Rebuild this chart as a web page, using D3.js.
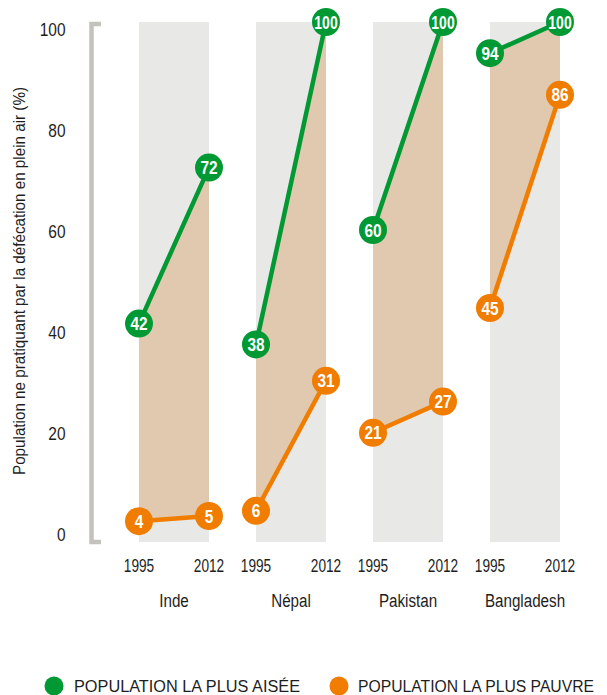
<!DOCTYPE html>
<html><head><meta charset="utf-8">
<script src="https://cdn.jsdelivr.net/npm/d3@7"></script>
<style>
body{margin:0;background:#fff;}
text{font-family:"Liberation Sans",Arial,sans-serif;}
</style></head>
<body><svg id="c" width="607" height="695"></svg>
<script>
const countries = ["Inde","Népal","Pakistan","Bangladesh"];
const years = ["1995","2012"];
const richest = [[42,72],[38,100],[60,100],[94,100]];
const poorest = [[4,5],[6,31],[21,27],[45,86]];
const yTicks = [0,20,40,60,80,100];
const yTitle = "Population ne pratiquant par la défécation en plein air (%)";
const legendLabels = ["POPULATION LA PLUS AISÉE","POPULATION LA PLUS PAUVRE"];

const green = "#009933", orange = "#f07d00", tan = "#e0c9af", colBg = "#e8e8e6", axisCol = "#c3c2bc", ink = "#1e1e1e";
const svg = d3.select("#c");

// condensed text helper: horizontal squeeze
function ctext(parent, x, y, s, str, size, anchor, extra) {
  const t = parent.append("text")
    .attr("transform", `translate(${x},${y}) scale(${s},1)`)
    .attr("dy","0.35em").attr("text-anchor",anchor).attr("font-size",size).attr("fill",ink).text(str);
  if (extra) extra(t);
  return t;
}

const x = d3.scaleBand().domain(countries).range([139,560]).paddingInner(47/117).paddingOuter(0);
const xy = d3.scalePoint().domain(years).range([0, x.bandwidth()]);
const y = d3.scaleLinear().domain([0,100]).range([542,22]);
const yLab = d3.scaleLinear().domain([0,100]).range([535,30]);

// axis bracket
svg.append("path").attr("d", `M101,${y(100)+2}H91.5V${y(0)}H101`)
  .attr("fill","none").attr("stroke",axisCol).attr("stroke-width",4.5);
// tick labels
const tg = svg.append("g");
yTicks.forEach(d => ctext(tg, 65.5, yLab(d), 0.86, d, 18, "end"));
svg.append("text").attr("transform",`translate(24.5,281) rotate(-90)`)
  .attr("text-anchor","middle").attr("font-size",16.5).attr("fill",ink)
  .attr("textLength",388).attr("lengthAdjust","spacingAndGlyphs").text(yTitle);

countries.forEach((c,i)=>{
  const g = svg.append("g").attr("transform",`translate(${x(c)},0)`);
  g.append("rect").attr("x",0).attr("y",y(100)).attr("width",x.bandwidth()).attr("height",y(0)-y(100)).attr("fill",colBg);
  const top = years.map((yr,j)=>[xy(yr), y(richest[i][j])]);
  const bot = years.map((yr,j)=>[xy(yr), y(poorest[i][j])]);
  g.append("path").attr("d", d3.line()(top.concat(bot.slice().reverse())) + "Z").attr("fill",tan);
  const series = [[top,green,richest[i]],[bot,orange,poorest[i]]];
  series.forEach(([pts,col])=>{
    g.append("path").attr("d", d3.line()(pts)).attr("stroke",col).attr("stroke-width",4.5).attr("fill","none");
  });
  series.forEach(([pts,col,vals])=>{
    pts.forEach((p,j)=>{
      g.append("circle").attr("cx",p[0]).attr("cy",p[1]).attr("r",14).attr("fill",col);
      ctext(g, p[0], p[1]+0.5, vals[j]>=100?0.8:0.88, vals[j], 17.5, "middle", t=>t.attr("font-weight","bold").attr("fill","#fff"));
    });
  });
  years.forEach(yr=> ctext(g, xy(yr), 566, 0.74, yr, 18.5, "middle"));
  ctext(g, x.bandwidth()/2, 600, 0.8, c, 19, "middle");
});

// legend
const lg = svg.append("g");
[[54,74,226,green,legendLabels[0]],[339,358,236,orange,legendLabels[1]]].forEach(([cx,tx,len,col,t])=>{
  lg.append("circle").attr("cx",cx).attr("cy",686).attr("r",9.5).attr("fill",col);
  lg.append("text").attr("x",tx).attr("y",686).attr("dy","0.35em").attr("font-size",16).attr("fill",ink)
    .attr("textLength",len).attr("lengthAdjust","spacingAndGlyphs").text(t);
});
</script></body></html>
